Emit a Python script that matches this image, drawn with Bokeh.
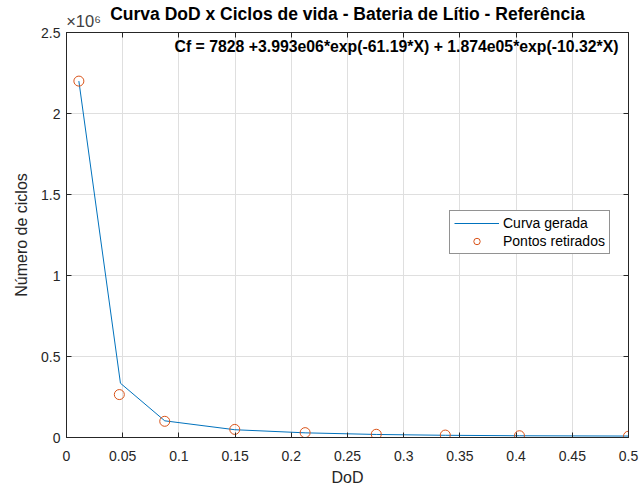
from bokeh.plotting import figure
from bokeh.models import (ColumnDataSource, FixedTicker, Label, Legend, LegendItem, Range1d,
                          LinearAxis)
from bokeh.embed import file_html
from bokeh.resources import INLINE

# ---- data ----
curve_dod = [0.011, 0.048, 0.0874, 0.1497, 0.2123, 0.2756, 0.337, 0.403, 0.5]
curve_cycles = [2200000, 335000, 103000, 48000, 28800, 18800, 13600, 10800, 8900]
pts_dod = [0.011, 0.047, 0.0874, 0.1497, 0.2123, 0.2756, 0.337, 0.403, 0.5]
pts_cycles = [2200000, 265000, 100000, 50000, 30000, 20000, 15000, 11000, 8000]

x_ticks = [0, 0.05, 0.1, 0.15, 0.2, 0.25, 0.3, 0.35, 0.4, 0.45, 0.5]
x_tick_labels = ["0", "0.05", "0.1", "0.15", "0.2", "0.25", "0.3", "0.35", "0.4", "0.45", "0.5"]
y_ticks = [0, 500000, 1000000, 1500000, 2000000, 2500000]
y_tick_labels = ["0", "0.5", "1", "1.5", "2", "2.5"]

title_text = "Curva DoD x Ciclos de vida - Bateria de Lítio - Referência"
formula_text = "Cf = 7828 +3.993e06*exp(-61.19*X) + 1.874e05*exp(-10.32*X)"
x_label = "DoD"
y_label = "Número de ciclos"
legend_labels = ["Curva gerada", "Pontos retirados"]
exp_text = "×10⁶"
exp_anchor = 0.0152   # x where the exponent note is centred (top axis)

FONT = "Liberation Sans"
AX = "#262626"

p = figure(width=639, height=488, output_backend="svg", toolbar_location=None,
           x_range=Range1d(0, 0.5), y_range=Range1d(0, 2500000),
           min_border_left=66, min_border_right=11, min_border_top=30, min_border_bottom=50)
p.title.visible = False

p.background_fill_color = "white"
p.border_fill_color = "white"
p.outline_line_color = AX
p.outline_line_width = 1

top_ax = LinearAxis(ticker=FixedTicker(ticks=[exp_anchor], minor_ticks=x_ticks))
right_ax = LinearAxis(ticker=FixedTicker(ticks=[], minor_ticks=y_ticks))
p.add_layout(top_ax, "above")
p.add_layout(right_ax, "right")

for ax in p.axis:
    ax.axis_line_color = AX
    ax.major_tick_line_color = AX
    ax.major_tick_in = 5
    ax.major_tick_out = 0
    ax.minor_tick_line_color = None
    ax.major_label_text_font = FONT
    ax.major_label_text_font_size = "14px"
    ax.major_label_text_color = AX
    ax.axis_label_text_font = FONT
    ax.axis_label_text_font_size = "16px"
    ax.axis_label_text_font_style = "normal"
    ax.axis_label_text_color = AX

for ax in (top_ax, right_ax):
    ax.major_tick_in = 0
    ax.minor_tick_line_color = AX
    ax.minor_tick_in = 5
    ax.minor_tick_out = 0

# top axis: exponent note as its only label, title as its axis label
top_ax.major_label_overrides = {exp_anchor: exp_text}
top_ax.major_label_text_font_size = "16.5px"
top_ax.major_label_text_color = "#404040"
top_ax.major_label_standoff = 3
top_ax.axis_label = title_text
top_ax.axis_label_text_font_size = "17.5px"
top_ax.axis_label_text_font_style = "bold"
top_ax.axis_label_text_color = "#000000"
top_ax.axis_label_standoff = -15

bottom_ax = p.below[0]
left_ax = p.left[0]
bottom_ax.ticker = FixedTicker(ticks=x_ticks)
left_ax.ticker = FixedTicker(ticks=y_ticks)
bottom_ax.major_label_overrides = {t: l for t, l in zip(x_ticks, x_tick_labels)}
left_ax.major_label_overrides = {t: l for t, l in zip(y_ticks, y_tick_labels)}
bottom_ax.axis_label = x_label
left_ax.axis_label = y_label
bottom_ax.major_label_standoff = 13
left_ax.major_label_standoff = 6
bottom_ax.axis_label_standoff = 5
left_ax.axis_label_standoff = 8

p.grid.grid_line_color = "#DFDFDF"
p.grid.grid_line_width = 1
p.xgrid.ticker = FixedTicker(ticks=x_ticks)
p.ygrid.ticker = FixedTicker(ticks=y_ticks)

src_c = ColumnDataSource(dict(x=curve_dod, y=curve_cycles))
src_p = ColumnDataSource(dict(x=pts_dod, y=pts_cycles))
r_line = p.line("x", "y", source=src_c, line_color="#0072BD", line_width=1)
r_pts = p.scatter("x", "y", source=src_p, marker="circle", size=10,
                  fill_color=None, line_color="#D95319", line_width=1)

legend = Legend(items=[LegendItem(label=legend_labels[0], renderers=[r_line]),
                       LegendItem(label=legend_labels[1], renderers=[r_pts])],
                location=(383, 183))
legend.label_text_font = FONT
legend.label_text_font_size = "14px"
legend.label_text_color = "#000000"
legend.glyph_width = 45
legend.glyph_height = 16
legend.label_height = 16
legend.label_standoff = 4
legend.spacing = 2
legend.padding = 4
legend.margin = 0
legend.border_line_color = AX
legend.border_line_width = 1
legend.background_fill_alpha = 1
p.add_layout(legend)

p.add_layout(Label(x=0.5, y=2500000, x_offset=-10, y_offset=-5, text=formula_text,
                   text_align="right", text_baseline="top", text_font=FONT,
                   text_font_size="15.8px", text_font_style="bold", text_color="#000000"))

open("out.html", "w").write(file_html(p, INLINE))
